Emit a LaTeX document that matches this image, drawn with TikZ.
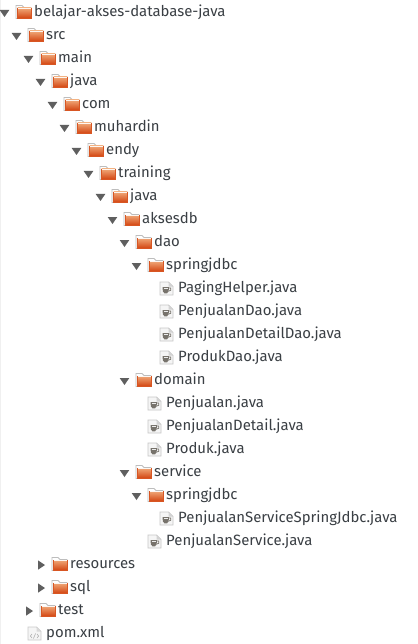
\documentclass[tikz,border=0pt]{standalone}
\usepackage{fontspec}
\setmainfont{Fira Sans}
\definecolor{txt}{HTML}{3A3F44}
\definecolor{fedge}{HTML}{BDBDBD}
\definecolor{ftop}{HTML}{F0A878}
\definecolor{fbot}{HTML}{D2420E}
\definecolor{arr}{HTML}{5F5F5F}
\definecolor{cup}{HTML}{77736C}
\tikzset{
  x=1pt,y=-1pt,
  label text/.style={anchor=west,inner sep=0pt,text=txt,font=\fontsize{14.9}{16}\selectfont,text height=10pt,text depth=3pt},
  pics/folder/.style={code={
    \draw[fedge,fill=white,line width=.9pt] (0,6.5) -- (0,-6.5) -- (6,-6.5) -- (8,-4.5) -- (15,-4.5) -- (15,6.5) -- cycle;
    \shade[top color=ftop,bottom color=fbot,draw=fbot!80!ftop,line width=.4pt] (1.5,-4) rectangle (15.2,6.6);
    \draw[white!90!ftop,line width=.5pt] (2,-3.6) -- (14.8,-3.6);
  }},
  pics/jfile/.style={code={
    \draw[fedge!85!white,fill=gray!8,line width=.8pt] (0,-6.5) -- (8.5,-6.5) -- (13,-2) -- (13,6.5) -- (0,6.5) -- cycle;
    \fill[gray!35] (8.5,-6.5) -- (8.5,-2) -- (13,-2) -- cycle;
    \fill[cup] (2.5,-1.5) -- (9,-1.5) -- (8.6,3) -- (7,4.8) -- (4.5,4.8) -- (2.9,3) -- cycle;
    \fill[gray!15] (3.5,-1) rectangle (8,0);
    \draw[cup,line width=.7pt] (9,-.5) -- (10.8,-.5) -- (10.8,1.8) -- (8.6,2.6);
  }},
  pics/xfile/.style={code={
    \draw[fedge!80!white,fill=gray!8,line width=.8pt] (0,-6.5) -- (8.5,-6.5) -- (13,-2) -- (13,6.5) -- (0,6.5) -- cycle;
    \fill[gray!30] (8.5,-6.5) -- (8.5,-2) -- (13,-2) -- cycle;
    \draw[gray!65,line width=.55pt] (4,.5) -- (2.4,2.5) -- (4,4.5) (9,.5) -- (10.6,2.5) -- (9,4.5) (5.4,5) -- (7.6,0);
  }},
  pics/opened/.style={code={\fill[arr] (-4.8,-3) -- (4.8,-3) -- (0,4) -- cycle;}},
  pics/closed/.style={code={\fill[arr] (-3.3,-4.6) -- (3.6,0) -- (-3.3,4.6) -- cycle;}},
}
% level, row, state, name, text
\newcommand{\treedir}[5]{%
  \pgfmathsetmacro{\yy}{12+23*#2}\pgfmathsetmacro{\xx}{12*#1}%
  \pgfmathsetmacro{\ax}{\xx+4.5}\pgfmathsetmacro{\ay}{\yy+1}%
  \ifnum\pdfstrcmp{#3}{closed}=0 \pgfmathsetmacro{\ax}{\xx+5.4}\fi
  \path (\ax,\ay) pic {#3};
  \path (\xx+16,\yy) pic {folder};
  \node[label text] (#4) at (\xx+34,\yy+1.3) {#5};}
\newcommand{\treefile}[5]{%
  \pgfmathsetmacro{\yy}{12+23*#2}\pgfmathsetmacro{\xx}{12*#1}%
  \path (\xx+16,\yy+.5) pic {#3};
  \node[label text] (#4) at (\xx+34,\yy+1.3) {#5};}
\begin{document}
\begin{tikzpicture}
\useasboundingbox (0,0) rectangle (417,644);
\fill[white] (0,0) rectangle (417,644);
\fill[gray!12] (0,0) rectangle (1.2,644);
\treedir{0}{0}{opened}{n0}{belajar-akses-database-java}
\treedir{1}{1}{opened}{n1}{src}
\treedir{2}{2}{opened}{n2}{main}
\treedir{3}{3}{opened}{n3}{java}
\treedir{4}{4}{opened}{n4}{com}
\treedir{5}{5}{opened}{n5}{muhardin}
\treedir{6}{6}{opened}{n6}{endy}
\treedir{7}{7}{opened}{n7}{training}
\treedir{8}{8}{opened}{n8}{java}
\treedir{9}{9}{opened}{n9}{aksesdb}
\treedir{10}{10}{opened}{n10}{dao}
\treedir{11}{11}{opened}{n11}{springjdbc}
\treefile{12}{12}{jfile}{n12}{PagingHelper.java}
\treefile{12}{13}{jfile}{n13}{PenjualanDao.java}
\treefile{12}{14}{jfile}{n14}{PenjualanDetailDao.java}
\treefile{12}{15}{jfile}{n15}{ProdukDao.java}
\treedir{10}{16}{opened}{n16}{domain}
\treefile{11}{17}{jfile}{n17}{Penjualan.java}
\treefile{11}{18}{jfile}{n18}{PenjualanDetail.java}
\treefile{11}{19}{jfile}{n19}{Produk.java}
\treedir{10}{20}{opened}{n20}{service}
\treedir{11}{21}{opened}{n21}{springjdbc}
\treefile{12}{22}{jfile}{n22}{PenjualanServiceSpringJdbc.java}
\treefile{11}{23}{jfile}{n23}{PenjualanService.java}
\treedir{3}{24}{closed}{n24}{resources}
\treedir{3}{25}{closed}{n25}{sql}
\treedir{2}{26}{closed}{n26}{test}
\treefile{1}{27}{xfile}{n27}{pom.xml}
\end{tikzpicture}
\end{document}
